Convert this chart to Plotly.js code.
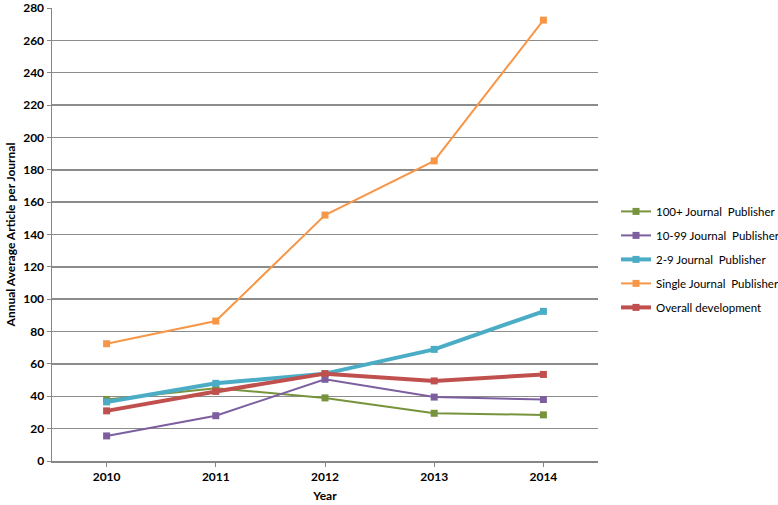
<!DOCTYPE html>
<html><head><meta charset="utf-8">
<script src="https://cdn.plot.ly/plotly-3.0.1.min.js"></script>
<style>html,body{margin:0;padding:0;background:#fff;}#chart{width:778px;height:505px;}</style>
</head><body><div id="chart"></div>
<script>
const years = ["2010","2011","2012","2013","2014"];
const seriesNames = ["100+ Journal  Publisher","10-99 Journal  Publisher","2-9 Journal  Publisher","Single Journal  Publisher","Overall development"];
const v100plus = [38, 45, 39, 29.5, 28.5];
const v10to99 = [15.5, 28, 50.5, 39.5, 38];
const v2to9 = [36.5, 48, 54, 69, 92.5];
const vSingle = [72.5, 86.5, 152, 185.5, 272.5];
const vOverall = [31, 43, 54, 49.5, 53.5];
const yTicks = [0,20,40,60,80,100,120,140,160,180,200,220,240,260,280];

const colors = ["#77933C","#7D5FA0","#4BACC6","#F79646","#C0504D"];
const widths = [2, 2, 4, 2, 4];
const data = [v100plus, v10to99, v2to9, vSingle, vOverall];

const traces = data.map((vals, i) => ({
  x: years, y: vals, type: "scatter", mode: "lines+markers",
  name: seriesNames[i], legendgroup: "g"+i,
  line: {color: colors[i], width: widths[i]},
  marker: {symbol: "square", size: 7, color: colors[i]}
}));

const layout = {
  width: 778, height: 505,
  margin: {l: 52, r: 180, t: 8, b: 44, autoexpand: false},
  paper_bgcolor: "#fff", plot_bgcolor: "#fff",
  font: {family: "Lato, 'Open Sans', sans-serif", color: "#000"},
  showlegend: true,
  legend: {x: 1.033, xanchor: "left", y: 0.583, yanchor: "top",
    traceorder: "grouped", tracegroupgap: 5,
    font: {size: 11.5, family: "Lato, sans-serif", color: "#000"}},
  xaxis: {type: "category", range: [-0.5, 4.5],
    title: {text: "<b>Year</b>", font: {size: 12}, standoff: 8},
    tickfont: {size: 12, family: "Lato, sans-serif"},
    tickprefix: "<b>", ticksuffix: "</b>",
    showline: true, linecolor: "#868686", linewidth: 1.5,
    ticks: "outside", ticklen: 4, tickcolor: "#868686",
    showgrid: false, zeroline: false},
  yaxis: {range: [0, 280], tickvals: yTicks, ticktext: yTicks.map(t => "<b>"+t+"</b>"),
    ticklabeloverflow: "allow",
    title: {text: "<b>Annual Average Article per Journal</b>", font: {size: 12}, standoff: 5},
    tickfont: {size: 12, family: "Lato, sans-serif"},
    showline: true, linecolor: "#868686", linewidth: 1.5,
    ticks: "outside", ticklen: 4, tickcolor: "#868686",
    showgrid: true, gridcolor: "#8c8c8c", gridwidth: 1.5, zeroline: false}
};
Plotly.newPlot("chart", traces, layout, {displayModeBar: false, staticPlot: true});
</script></body></html>
